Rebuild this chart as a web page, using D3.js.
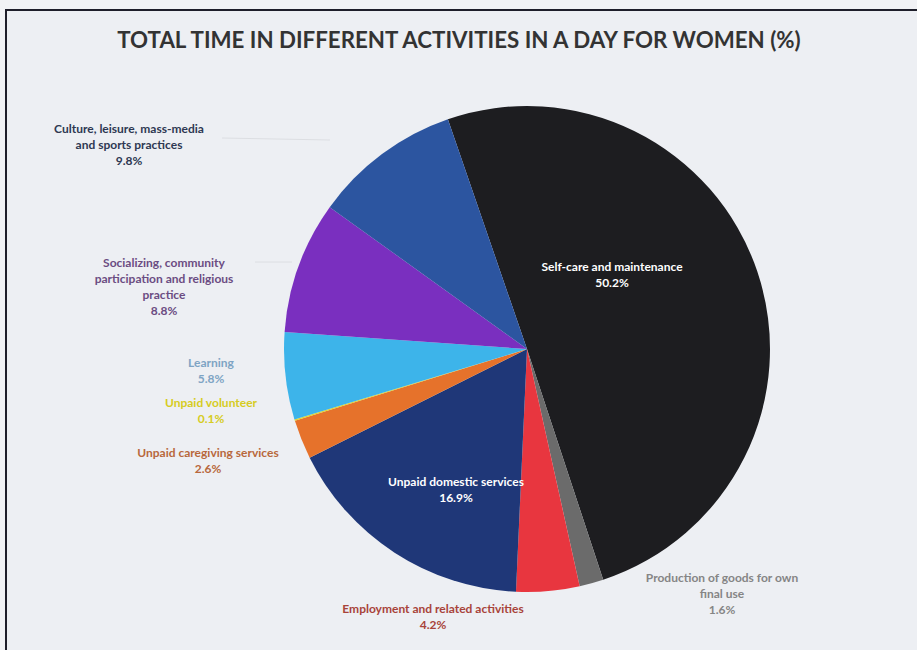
<!DOCTYPE html>
<html>
<head>
<meta charset="utf-8">
<script src="https://cdn.jsdelivr.net/npm/d3@7"></script>
<style>
  body { margin: 0; background: #f1f2f5; }
  svg { display: block; }
</style>
</head>
<body>
<script>
// data (pie order, clockwise from the top-left edge)
const activities = [
  'Self-care and maintenance',
  'Production of goods for own final use',
  'Employment and related activities',
  'Unpaid domestic services',
  'Unpaid caregiving services',
  'Unpaid volunteer',
  'Learning',
  'Socializing, community participation and religious practice',
  'Culture, leisure, mass-media and sports practices'
]
const shares = [50.2, 1.6, 4.2, 16.9, 2.6, 0.1, 5.8, 8.8, 9.8]
const sliceColors = ['#1d1d20', '#6b6b6b', '#e8363f', '#1f3778', '#e6722b', '#e2d62a', '#3db4ea', '#7a2fbf', '#2c55a0']

// label text, split on lines as printed
const labelLines = [
  ['Self-care and maintenance'],
  ['Production of goods for own', 'final use'],
  ['Employment and related activities'],
  ['Unpaid domestic services'],
  ['Unpaid caregiving services'],
  ['Unpaid volunteer'],
  ['Learning'],
  ['Socializing, community', 'participation and religious', 'practice'],
  ['Culture, leisure, mass-media', 'and sports practices']
]
const labelColors = ['#ffffff', '#858585', '#a8433a', '#ffffff', '#b8683c', '#d6cc22', '#7ea4c4', '#6b4c82', '#2e3852']
const labelPos = [[612, 271], [722, 582], [433, 613], [456, 486], [208, 457], [211, 407], [211, 367], [164, 267], [129, 133]]

const width = 917, height = 650
const cx = 527, cy = 349, radius = 243

const svg = d3.select('body').append('svg')
  .attr('width', width)
  .attr('height', height)

svg.append('rect').attr('width', width).attr('height', height).attr('fill', '#f1f2f5')
svg.append('rect').attr('x', 6).attr('y', 10).attr('width', 940).attr('height', 680)
  .attr('fill', '#edeff3').attr('stroke', '#1e1e2a').attr('stroke-width', 2)

svg.append('text')
  .attr('x', 459).attr('y', 48)
  .attr('text-anchor', 'middle')
  .attr('font-family', 'Lato, sans-serif')
  .attr('font-weight', 700)
  .attr('font-size', 22.3)
  .attr('fill', '#333')
  .text('TOTAL TIME IN DIFFERENT ACTIVITIES IN A DAY FOR WOMEN (%)')

const pie = d3.pie().sort(null)
  .startAngle(-19 * Math.PI / 180)
  .endAngle(341 * Math.PI / 180)
const arcs = pie(shares)
const arc = d3.arc().innerRadius(0).outerRadius(radius)

const g = svg.append('g').attr('transform', `translate(${cx},${cy})`)
g.selectAll('path').data(arcs).join('path')
  .attr('d', arc)
  .attr('fill', (d, i) => sliceColors[i])

// faint leader lines for the outside labels on the left
const leaders = [[[222, 138], [330, 140]], [[255, 262], [292, 262]]]
svg.selectAll('line.leader').data(leaders).join('line')
  .attr('class', 'leader')
  .attr('x1', d => d[0][0]).attr('y1', d => d[0][1])
  .attr('x2', d => d[1][0]).attr('y2', d => d[1][1])
  .attr('stroke', '#dcdee2').attr('stroke-width', 1)

const labels = svg.selectAll('text.lbl').data(activities).join('text')
  .attr('class', 'lbl')
  .attr('text-anchor', 'middle')
  .attr('font-family', 'Lato, sans-serif')
  .attr('font-weight', 700)
  .attr('font-size', 12)
  .attr('fill', (d, i) => labelColors[i])

labels.each(function (d, i) {
  const t = d3.select(this)
  const lines = labelLines[i].concat([shares[i].toFixed(1) + '%'])
  lines.forEach((s, j) => {
    t.append('tspan')
      .attr('x', labelPos[i][0])
      .attr('y', labelPos[i][1] + j * 16)
      .text(s)
  })
})
</script>
</body>
</html>
